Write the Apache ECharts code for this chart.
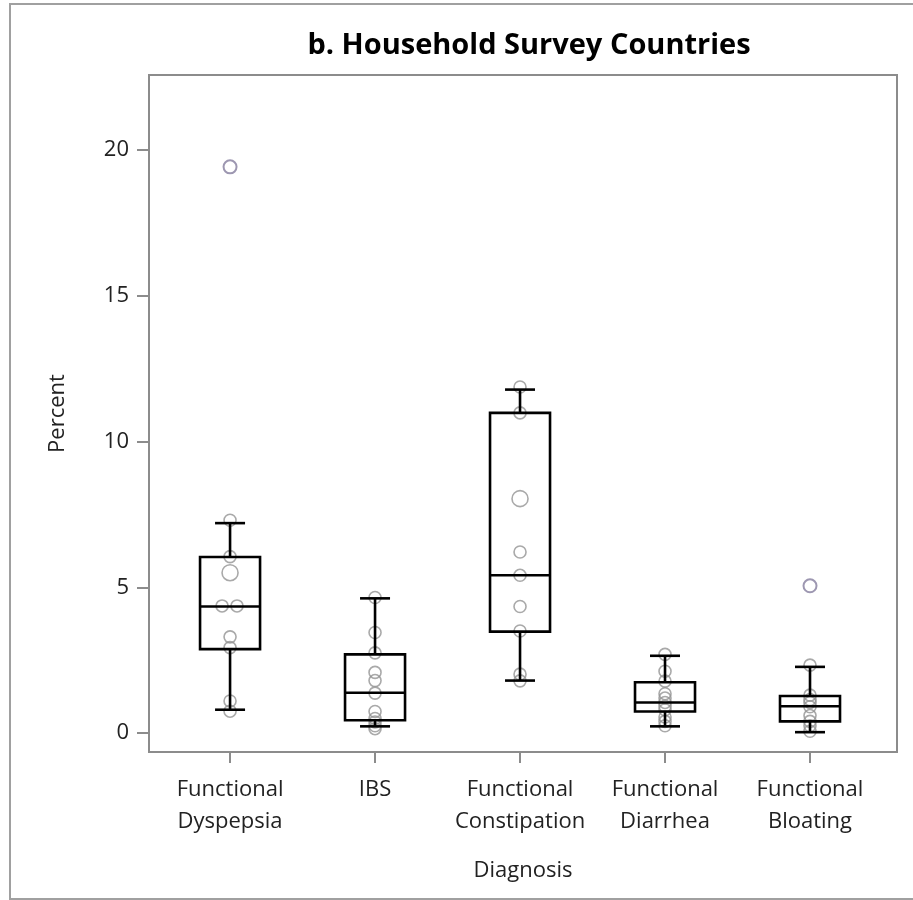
<!DOCTYPE html>
<html>
<head>
<meta charset="utf-8">
<script src="https://cdn.jsdelivr.net/npm/echarts@6/dist/echarts.min.js"></script>
<style>html,body{margin:0;padding:0;background:#fff}#chart{width:913px;height:900px}</style>
</head>
<body>
<div id="chart"></div>
<script>
// ---- data ----
const categories = ['Functional\nDyspepsia', 'IBS', 'Functional\nConstipation', 'Functional\nDiarrhea', 'Functional\nBloating'];
const yTicks = [0, 5, 10, 15, 20];
// box statistics per diagnosis
const whiskerLow  = [0.80, 0.23, 1.80, 0.23, 0.03];
const q1          = [2.88, 0.44, 3.48, 0.74, 0.40];
const median      = [4.34, 1.38, 5.41, 1.05, 0.92];
const q3          = [6.04, 2.70, 10.98, 1.74, 1.27];
const whiskerHigh = [7.20, 4.62, 11.78, 2.65, 2.27];
// individual country values
const dyspepsiaPts    = [7.3, 6.05, 4.36, 4.36, 3.3, 2.93, 1.1, 0.75];
const ibsPts          = [4.65, 3.45, 2.75, 2.08, 1.8, 1.37, 0.74, 0.5, 0.38, 0.25, 0.15];
const constipationPts = [11.87, 10.98, 6.21, 5.41, 4.34, 3.5, 2.02, 1.79];
const diarrheaPts     = [2.7, 2.12, 1.78, 1.35, 1.2, 1.05, 0.92, 0.8, 0.55, 0.4, 0.25];
const bloatingPts     = [2.33, 1.3, 1.15, 1.05, 0.9, 0.6, 0.4, 0.25, 0.06];
// values shared by two countries (drawn as larger rings): [category index, value]
const doublePts = [[0, 5.5], [2, 8.04]];
// outliers: [category index, value]
const outliers = [[0, 19.42], [4, 5.05]];

// ---- build series data ----
const allPts = [dyspepsiaPts, ibsPts, constipationPts, diarrheaPts, bloatingPts];
const scatterData = [];
allPts.forEach((arr, i) => {
  arr.forEach((v, k) => {
    // two equal values in Dyspepsia are spread side by side
    let dx = 0;
    if (i === 0 && v === 4.36) dx = (k === 2 ? -0.055 : 0.048);
    scatterData.push([i + dx, v]);
  });
});
const boxData = categories.map((c, i) => [i, whiskerLow[i], q1[i], median[i], q3[i], whiskerHigh[i]]);

const chart = echarts.init(document.getElementById('chart'));
const axisGray = '#8c8c8c';
const FONT = "'Open Sans', 'Noto Sans', sans-serif";

chart.setOption({
  animation: false,
  backgroundColor: '#fff',
  title: {
    text: 'b. Household Survey Countries',
    left: 524, top: 26, textAlign: 'center',
    textStyle: { fontFamily: FONT, fontWeight: 'bold', fontSize: 29, color: '#000' }
  },
  graphic: [{
    type: 'rect', silent: true,
    shape: { x: 10, y: 4, width: 920, height: 895 },
    style: { fill: 'none', stroke: '#a0a0a0', lineWidth: 2 }
  }],
  grid: {
    left: 149, top: 75, width: 748, height: 677,
    show: true, borderColor: axisGray, borderWidth: 2, backgroundColor: 'transparent'
  },
  xAxis: {
    type: 'value', min: -0.559, max: 4.6,
    name: 'Diagnosis', nameLocation: 'middle', nameGap: 108,
    nameTextStyle: { fontFamily: FONT, fontSize: 22, color: '#222' },
    axisLine: { show: true, onZero: false, lineStyle: { color: axisGray, width: 2 } },
    axisTick: { show: true, customValues: [0, 1, 2, 3, 4], length: 11, lineStyle: { color: axisGray, width: 2 } },
    axisLabel: {
      customValues: [0, 1, 2, 3, 4], margin: 22,
      formatter: v => categories[Math.round(v)],
      fontFamily: FONT, fontSize: 22, lineHeight: 32, color: '#222'
    },
    splitLine: { show: false }
  },
  yAxis: {
    type: 'value', min: -0.65, max: 22.57,
    name: 'Percent', nameLocation: 'middle', nameGap: 80,
    nameTextStyle: { fontFamily: FONT, fontSize: 22, color: '#222' },
    axisLine: { show: true, onZero: false, lineStyle: { color: axisGray, width: 2 } },
    axisTick: { show: true, customValues: yTicks, length: 12, lineStyle: { color: axisGray, width: 2 } },
    axisLabel: { customValues: yTicks, margin: 20, fontFamily: FONT, fontSize: 22, color: '#222' },
    splitLine: { show: false }
  },
  series: [
    {
      type: 'scatter', name: 'Countries', z: 2,
      symbol: 'circle', symbolSize: 12,
      itemStyle: { color: 'rgba(0,0,0,0)', borderColor: '#939393', borderWidth: 1.6 },
      data: scatterData
    },
    {
      type: 'scatter', name: 'Shared', z: 2,
      symbol: 'circle', symbolSize: 16,
      itemStyle: { color: 'rgba(0,0,0,0)', borderColor: '#939393', borderWidth: 1.6 },
      data: doublePts
    },
    {
      type: 'scatter', name: 'Outliers', z: 2,
      symbol: 'circle', symbolSize: 13,
      itemStyle: { color: 'rgba(0,0,0,0)', borderColor: '#857d9e', borderWidth: 2 },
      data: outliers
    },
    {
      type: 'custom', name: 'Box', z: 3,
      encode: { x: 0, y: [1, 2, 3, 4, 5] },
      data: boxData,
      renderItem: function (params, api) {
        const i = api.value(0);
        const pLo = api.coord([i, api.value(1)]);
        const pQ1 = api.coord([i, api.value(2)]);
        const pMed = api.coord([i, api.value(3)]);
        const pQ3 = api.coord([i, api.value(4)]);
        const pHi = api.coord([i, api.value(5)]);
        const cx = pMed[0];
        const hb = 30, hc = 15;
        const st = { stroke: '#000', lineWidth: 2.6, fill: 'none' };
        return {
          type: 'group',
          children: [
            { type: 'rect', shape: { x: cx - hb, y: pQ3[1], width: hb * 2, height: pQ1[1] - pQ3[1] }, style: st },
            { type: 'line', shape: { x1: cx - hb, y1: pMed[1], x2: cx + hb, y2: pMed[1] }, style: st },
            { type: 'line', shape: { x1: cx, y1: pQ3[1], x2: cx, y2: pHi[1] }, style: st },
            { type: 'line', shape: { x1: cx, y1: pQ1[1], x2: cx, y2: pLo[1] }, style: st },
            { type: 'line', shape: { x1: cx - hc, y1: pHi[1], x2: cx + hc, y2: pHi[1] }, style: st },
            { type: 'line', shape: { x1: cx - hc, y1: pLo[1], x2: cx + hc, y2: pLo[1] }, style: st }
          ]
        };
      }
    }
  ]
});
</script>
</body>
</html>
